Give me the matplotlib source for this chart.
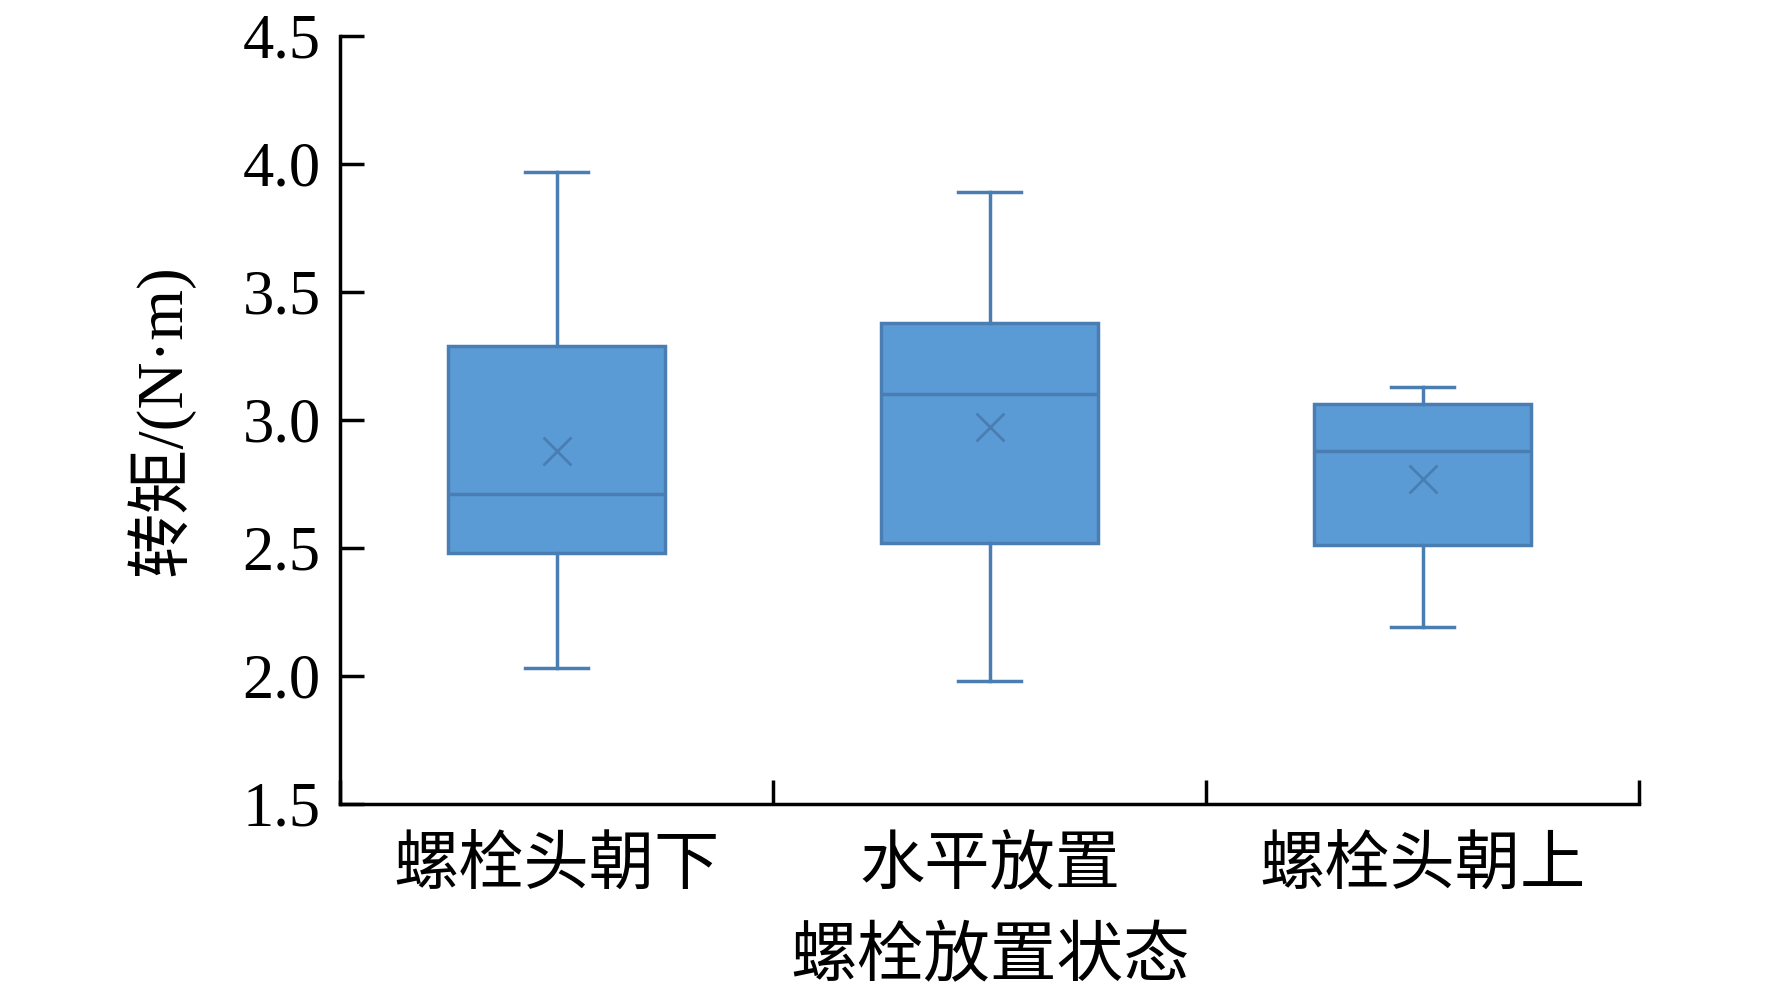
import matplotlib
matplotlib.use("Agg")
import matplotlib.pyplot as plt

plt.rcParams["font.family"] = ["Liberation Serif", "Noto Sans CJK SC"]

# Data
groups = ["螺栓头朝下", "水平放置", "螺栓头朝上"]
whis_lo = [2.03, 1.98, 2.19]
q1 = [2.48, 2.52, 2.51]
median = [2.71, 3.10, 2.88]
q3 = [3.29, 3.38, 3.06]
whis_hi = [3.97, 3.89, 3.13]
mean = [2.88, 2.97, 2.77]

FILL = "#5B9BD5"
EDGE = "#4A7EB3"

stats = []
for i, name in enumerate(groups):
    stats.append({
        "label": name,
        "whislo": whis_lo[i],
        "q1": q1[i],
        "med": median[i],
        "q3": q3[i],
        "whishi": whis_hi[i],
        "mean": mean[i],
        "fliers": [],
    })

fig = plt.figure(figsize=(17.72, 9.96), dpi=100)
ax = fig.add_axes([0.192, 0.193, 0.733, 0.771])

positions = [0.5, 1.5, 2.5]
ax.bxp(
    stats,
    positions=positions,
    widths=0.5,
    patch_artist=True,
    showmeans=True,
    showfliers=False,
    capwidths=0.145,
    boxprops=dict(facecolor=FILL, edgecolor=EDGE, linewidth=2.5),
    medianprops=dict(color=EDGE, linewidth=2.5),
    whiskerprops=dict(color=EDGE, linewidth=2.5),
    capprops=dict(color=EDGE, linewidth=2.5),
    meanprops=dict(marker="x", markeredgecolor=EDGE, markersize=20, markeredgewidth=2),
)

ax.set_xlim(0, 3)
ax.set_ylim(1.5, 4.5)
yticks = [1.5, 2.0, 2.5, 3.0, 3.5, 4.0, 4.5]
ax.set_yticks(yticks)
ax.set_yticklabels([f"{v:.1f}" for v in yticks])
ax.set_xticks(positions)
ax.set_xticklabels(groups)
ax.set_xticks([0, 1, 2, 3], minor=True)

ax.tick_params(axis="y", direction="in", length=17, width=2.5, labelsize=45, pad=14)
ax.tick_params(axis="x", which="major", length=0, labelsize=47, pad=24)
ax.tick_params(axis="x", which="minor", direction="in", length=17, width=2.5)

for side in ["top", "right"]:
    ax.spines[side].set_visible(False)
for side in ["left", "bottom"]:
    ax.spines[side].set_linewidth(2.5)

ax.set_ylabel("转矩/(N·m)", fontsize=47)
ax.yaxis.set_label_coords(-0.112, 0.5)
ax.set_xlabel("螺栓放置状态", fontsize=48)
ax.xaxis.set_label_coords(0.5, -0.162)

fig.savefig("out.png", dpi=100)
